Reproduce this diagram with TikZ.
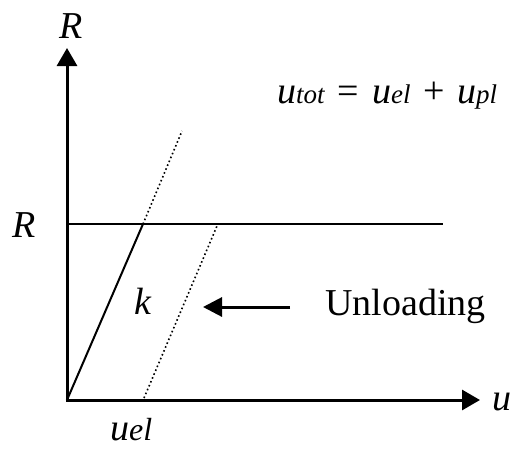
\documentclass[tikz,border=0pt]{standalone}
\usepackage{fontspec}
\setmainfont{Liberation Serif}
\usetikzlibrary{arrows.meta}
\begin{document}
\begin{tikzpicture}[x=1pt,y=-1pt,
  lab/.style={font=\fontsize{38}{40}\selectfont\itshape, inner sep=0pt},
  txt/.style={font=\fontsize{38}{40}\selectfont, inner sep=0pt},
  axisline/.style={line width=3pt,-{Triangle[length=18pt,width=20pt]}},
  thinline/.style={line width=2pt},
  dotline/.style={line width=1.6pt,dash pattern=on 1.6pt off 2.6pt},
  arrowline/.style={line width=3pt,-{Triangle[length=19pt,width=19pt]}}]
\newcommand{\sbs}[1]{{\fontsize{27}{28}\selectfont\itshape #1}}
\newcommand{\sbb}[1]{{\fontsize{32}{34}\selectfont\itshape #1}}
\useasboundingbox (0,0) rectangle (523,453);
% axes
\coordinate (O) at (67,400);
\coordinate (Ytop) at (67,48);
\coordinate (Xend) at (480,400);
\draw[axisline] (67,401.5) -- (Ytop);
\draw[axisline] (65.5,400) -- (Xend);
% yield level
\coordinate (RL) at (67,224);
\coordinate (RR) at (443,224);
\draw[thinline] (RL) -- (RR);
% elastic loading
\coordinate (Y) at (143,224);
\coordinate (Yext) at (182,131);
\draw[thinline] (O) -- (Y);
\draw[dotline] (Y) -- (Yext);
% unloading
\coordinate (Ub) at (144,398);
\coordinate (Ut) at (217,226);
\draw[dotline] (Ub) -- (Ut);
% labels
\node[lab,anchor=base] (Rtop) at (71,38) {R};
\node[lab,anchor=base] (Rleft) at (24,237) {R};
\node[lab,anchor=base west] (ulab) at (492,410) {u};
\node[lab,anchor=base west] (uel) at (110,440) {u\sbb{el}};
\node[lab,anchor=base] (k) at (143,314) {k};
\node[txt,anchor=base west] (unl) at (325,315) {Unloading};
\node[lab,anchor=base west] (form) at (277,103) {u\sbs{tot}\hspace{13pt}{\upshape =}\hspace{13pt}u\sbs{el}\hspace{13pt}{\upshape +}\hspace{12pt}u\sbs{pl}};
\coordinate (As) at (290,307);
\coordinate (Ae) at (203,307);
\draw[arrowline] (As) -- (Ae);
\end{tikzpicture}
\end{document}
